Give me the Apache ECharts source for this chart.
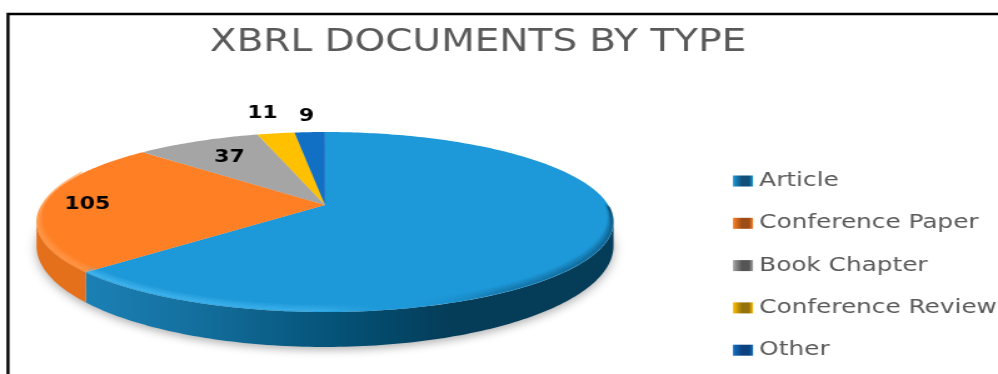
<!DOCTYPE html>
<html>
<head>
<meta charset="utf-8">
<style>
html,body{margin:0;padding:0;background:#fff;overflow:hidden;width:998px;height:374px}
/* The chart is drawn narrow and widened as a whole, so its lettering is extended too */
#chart{width:798px;height:374px;transform:scaleX(1.25063);transform-origin:0 0}
</style>
<script src="https://cdn.jsdelivr.net/npm/echarts@6/dist/echarts.min.js"></script>
</head>
<body>
<div id="chart"></div>
<script>
// Document counts by type
const categories = ['Article', 'Conference Paper', 'Book Chapter', 'Conference Review', 'Other'];
const counts = [278, 105, 37, 11, 9];
const shownLabels = [false, true, true, true, true];

// Slice styling, one entry per category
const topColors = ['#1d98d8', '#ff7f24', '#a5a5a5', '#ffc000', '#1270c4'];
const iconDark = ['#0f4f78', '#9c4c14', '#555555', '#96720a', '#0c4280'];
const wallStops = [
  [[0, '#1c80b5'], [0.2, '#14709f'], [0.5, '#045074'], [0.7, '#053c58'], [1, '#053c58']],
  [[0, '#e4701c'], [1, '#e4701c']],
  [[0, '#8a8a8a'], [1, '#8a8a8a']],
  [[0, '#c99700'], [1, '#c99700']],
  [[0, '#0d5596'], [1, '#0d5596']]
];
const rimStops = [
  [[0, 'rgba(90,200,255,1)'], [0.45, 'rgba(80,195,250,0.85)'], [0.6, 'rgba(29,152,216,0)'],
   [0.78, 'rgba(12,80,120,0.7)'], [1, 'rgba(6,60,92,1)']],
  [[0, 'rgba(255,170,100,0.9)'], [1, 'rgba(255,170,100,0.9)']],
  [[0, 'rgba(190,190,190,0.8)'], [1, 'rgba(190,190,190,0.8)']],
  [[0, 'rgba(255,210,70,0.8)'], [1, 'rgba(255,210,70,0.8)']],
  [[0, 'rgba(42,134,216,0.8)'], [1, 'rgba(42,134,216,0.8)']]
];
const labelReach = [0, 0.84, 0.72, 1.34, 1.26];
const bevelLayers = [1, 2, 3, 4, 5, 6];

// Page pixels per chart pixel along x
const stretch = 998 / 798;
const px = x => x / stretch;

// Tilted-disc projection: rim ellipse, displaced hub, and the ellipse of the lower edge
const disc = { cx: 325, cy: 222, halfW: 288.5, halfH: 90, hubLift: 17, baseCy: 246, baseHalfH: 101 };
const tilt = disc.hubLift / disc.halfH;
const flatW = disc.halfW * Math.sqrt(1 - tilt * tilt);
const nearFrom = Math.acos(-tilt) * 180 / Math.PI;
const nearTo = 360 - nearFrom;

function project(deg, r) {
  const a = deg * Math.PI / 180;
  const u = r * Math.sin(a), v = r * Math.cos(a), w = 1 + tilt * v;
  return [px(disc.cx + flatW * u / w), disc.cy - (disc.halfH * v + disc.hubLift) / w];
}
function lower(p) {
  return [p[0], disc.baseCy + (p[1] - disc.cy) * disc.baseHalfH / disc.halfH];
}
function arc(from, to, r) {
  const pts = [];
  const n = Math.max(2, Math.ceil(Math.abs(to - from)));
  for (let i = 0; i <= n; i++) pts.push(project(from + (to - from) * i / n, r));
  return pts;
}

const total = counts.reduce((s, c) => s + c, 0);
const degPerUnit = 360 / total;
function gradient(stops, x0, x1) {
  return new echarts.graphic.LinearGradient(px(x0), 0, px(x1), 0,
    stops.map(s => ({ offset: s[0], color: s[1] })), true);
}

function renderSlice(params, api) {
  const idx = params.seriesIndex;
  const from = api.value(0) * degPerUnit;
  const to = api.value(1) * degPerUnit;
  const children = [];
  const left = disc.cx - disc.halfW, right = disc.cx + disc.halfW;

  if (idx === 0) {
    children.push({
      type: 'polygon', z2: 0, shape: { points: arc(0, 360, 1).map(lower) },
      style: { fill: '#d8d8d8', shadowBlur: 9, shadowColor: 'rgba(0,0,0,0.3)', shadowOffsetY: 3 }
    });
  }

  // Only the near part of the disc shows a side wall
  const a = Math.max(from, nearFrom), b = Math.min(to, nearTo);
  const sliceLeft = b > a ? project(b, 1)[0] * stretch : left;
  const shadeLeft = idx === 0 ? sliceLeft : left;
  if (b > a) {
    const edge = arc(a, b, 1);
    children.push({
      type: 'polygon', z2: 1,
      shape: { points: edge.concat(edge.slice().reverse().map(lower)) },
      style: { fill: gradient(wallStops[idx], shadeLeft, right) }
    });
  }

  children.push({
    type: 'polygon', z2: 2,
    shape: { points: [project(0, 0)].concat(arc(from, to, 1)) },
    style: { fill: topColors[idx] }
  });

  // Bevel inside the rim, faded over several thin strokes
  const ra = Math.max(from, 92), rb = Math.min(to, 292);
  if (rb > ra) {
    const rimFill = gradient(rimStops[idx], shadeLeft, right);
    bevelLayers.forEach(d => {
      const points = arc(ra, rb, 1 - d * 0.003).map(p => [p[0], p[1] - d * 0.75]);
      children.push({
        type: 'polyline', z2: 3, shape: { points },
        style: { fill: null, lineWidth: 1.6, stroke: rimFill, opacity: 0.55 * (1 - d / 7) }
      });
    });
  }

  if (shownLabels[idx]) {
    const p = project((from + to) / 2, labelReach[idx]);
    children.push({
      type: 'text', z2: 4, x: p[0], y: p[1],
      style: {
        text: String(api.value(2)), align: 'center', verticalAlign: 'middle',
        fill: '#000', font: 'bold 17.5px "DejaVu Sans"'
      }
    });
  }
  return { type: 'group', children };
}

let running = 0;
const series = categories.map((name, i) => {
  const start = running;
  running += counts[i];
  return {
    type: 'custom', name, coordinateSystem: 'none', silent: true,
    renderItem: renderSlice, itemStyle: { color: topColors[i] },
    data: [[start, running, counts[i]]]
  };
});

const chart = echarts.init(document.getElementById('chart'), null, { renderer: 'canvas' });
chart.setOption({
  animation: false,
  backgroundColor: '#fff',
  title: {
    text: 'XBRL DOCUMENTS BY TYPE', left: px(478), top: 27, textAlign: 'center', padding: 0,
    textStyle: { fontFamily: 'DejaVu Sans', fontWeight: 'normal', fontSize: 31.2, color: '#595959' }
  },
  legend: {
    orient: 'vertical', left: px(733), top: 171, padding: 0,
    itemWidth: px(20), itemHeight: 11, itemGap: 22.3,
    icon: 'rect', selectedMode: false,
    textStyle: { fontFamily: 'DejaVu Sans', fontSize: 19.8, color: '#595959' },
    data: categories.map((name, i) => ({
      name,
      itemStyle: {
        color: new echarts.graphic.LinearGradient(0, 0, 1, 0, [
          { offset: 0, color: topColors[i] },
          { offset: 0.45, color: iconDark[i] },
          { offset: 0.8, color: iconDark[i] },
          { offset: 1, color: topColors[i] }
        ])
      }
    }))
  },
  graphic: [{
    type: 'polyline', silent: true,
    shape: { points: [[px(8), 374], [px(8), 14], [px(998), 14]] },
    style: { fill: null, stroke: '#000', lineWidth: 2.4 }
  }],
  series
});
</script>
</body>
</html>
